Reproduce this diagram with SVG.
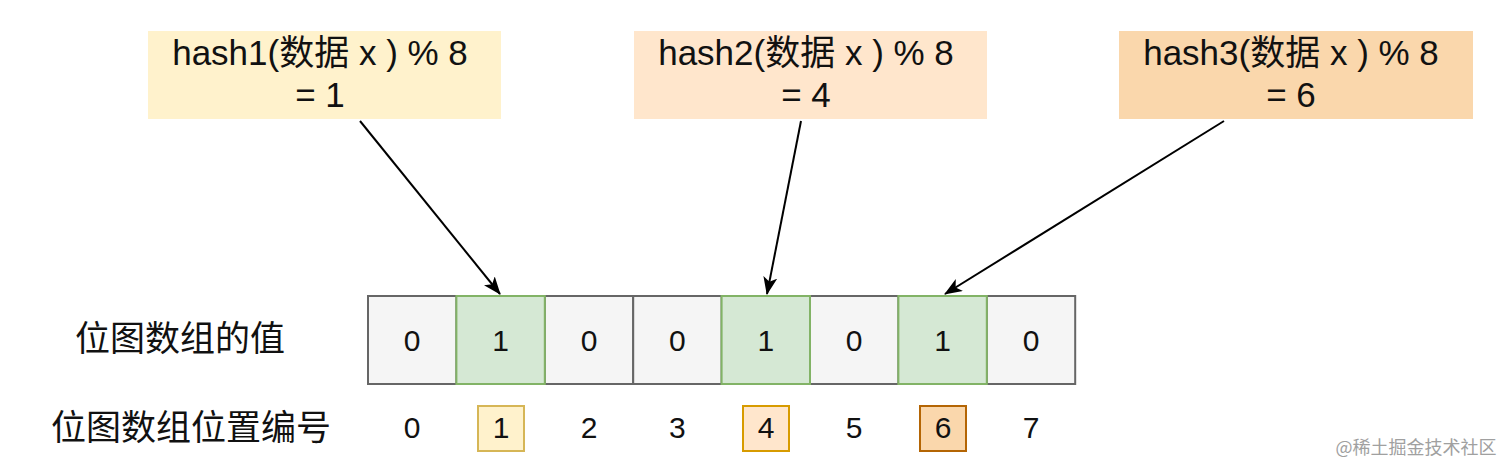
<svg xmlns="http://www.w3.org/2000/svg" width="1512" height="472" viewBox="0 0 1512 472">
<defs>
<style>
.t{font-family:"Liberation Sans","Noto Sans CJK SC",sans-serif;fill:#111;}
.h{font-size:35px;text-anchor:middle;}
.d{font-size:30px;text-anchor:middle;}
.lbl{font-size:35px;text-anchor:middle;}
.cell{fill:#f5f5f5;stroke:#666;stroke-width:2;}
.on{fill:#d5e8d4;stroke:#82b366;stroke-width:2;}
.edge{stroke:#000;stroke-width:2;fill:none;}
</style>
<marker id="arr" viewBox="0 0 18 14" refX="17" refY="7" markerWidth="18" markerHeight="14" markerUnits="userSpaceOnUse" orient="auto">
<path d="M0,0 L18,7 L0,14 L4.5,7 Z" fill="#000"/>
</marker>
</defs>
<rect width="1512" height="472" fill="#fff"/>

<g id="hash1">
<rect x="148" y="31" width="353" height="88" fill="#fff2cc"/>
<text class="t h" x="320" y="65">hash1(数据 x ) % 8</text>
<text class="t h" x="320" y="107">= 1</text>
</g>
<g id="hash2">
<rect x="634" y="31" width="353" height="88" fill="#ffe6cc"/>
<text class="t h" x="806" y="65">hash2(数据 x ) % 8</text>
<text class="t h" x="806" y="107">= 4</text>
</g>
<g id="hash3">
<rect x="1119" y="31" width="354" height="88" fill="#fad7ac"/>
<text class="t h" x="1291" y="65">hash3(数据 x ) % 8</text>
<text class="t h" x="1291" y="107">= 6</text>
</g>

<g id="label-values"><text class="t lbl" x="180" y="351">位图数组的值</text></g>
<g id="label-index"><text class="t lbl" x="191" y="440">位图数组位置编号</text></g>

<g id="cells">
<g id="cell0"><rect class="cell" x="368" y="296" width="88.4" height="88"/><text class="t d" x="412.2" y="351">0</text></g>
<g id="cell2"><rect class="cell" x="544.8" y="296" width="88.4" height="88"/><text class="t d" x="589" y="351">0</text></g>
<g id="cell3"><rect class="cell" x="633.2" y="296" width="88.4" height="88"/><text class="t d" x="677.4" y="351">0</text></g>
<g id="cell5"><rect class="cell" x="810" y="296" width="88.4" height="88"/><text class="t d" x="854.2" y="351">0</text></g>
<g id="cell7"><rect class="cell" x="986.8" y="296" width="88.4" height="88"/><text class="t d" x="1031" y="351">0</text></g>
<g id="cell1"><rect class="on" x="456.4" y="296" width="88.4" height="88"/><text class="t d" x="500.6" y="351">1</text></g>
<g id="cell4"><rect class="on" x="721.6" y="296" width="88.4" height="88"/><text class="t d" x="765.8" y="351">1</text></g>
<g id="cell6"><rect class="on" x="898.4" y="296" width="88.4" height="88"/><text class="t d" x="942.6" y="351">1</text></g>
</g>

<g id="indices">
<g id="idx0"><text class="t d" x="412.2" y="438">0</text></g>
<g id="idx1"><rect x="478" y="406" width="46" height="45" fill="#fff2cc" stroke="#d6b656" stroke-width="2"/><text class="t d" x="501" y="438">1</text></g>
<g id="idx2"><text class="t d" x="589" y="438">2</text></g>
<g id="idx3"><text class="t d" x="677.4" y="438">3</text></g>
<g id="idx4"><rect x="743" y="406" width="46" height="45" fill="#ffe6cc" stroke="#d79b00" stroke-width="2"/><text class="t d" x="766" y="438">4</text></g>
<g id="idx5"><text class="t d" x="854.2" y="438">5</text></g>
<g id="idx6"><rect x="920" y="406" width="46" height="45" fill="#fad7ac" stroke="#b46504" stroke-width="2"/><text class="t d" x="943" y="438">6</text></g>
<g id="idx7"><text class="t d" x="1031" y="438">7</text></g>
</g>

<g id="connectors">
<line class="edge" x1="360" y1="121" x2="500" y2="294" marker-end="url(#arr)"/>
<line class="edge" x1="801" y1="121" x2="767" y2="294" marker-end="url(#arr)"/>
<line class="edge" x1="1224" y1="121" x2="945" y2="294" marker-end="url(#arr)"/>
</g>

<text x="1416" y="454" text-anchor="middle" style="font-family:'Noto Sans CJK SC',sans-serif;font-size:18px;fill:#a0a0a0">@稀土掘金技术社区</text>
</svg>
